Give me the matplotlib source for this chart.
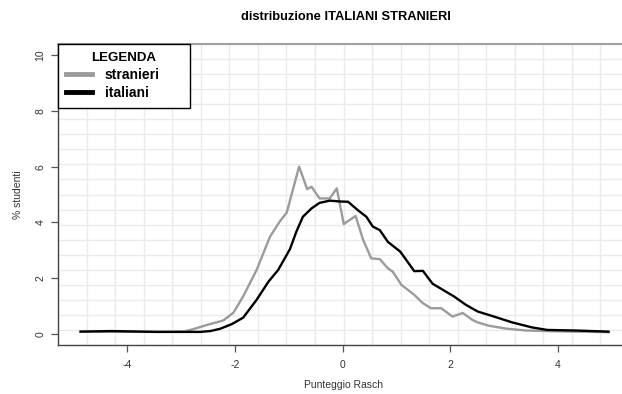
import numpy as np
import matplotlib
matplotlib.use("Agg")
import matplotlib.pyplot as plt
from matplotlib.lines import Line2D
from matplotlib.ticker import FixedLocator

plt.rcParams["font.family"] = ["Liberation Sans", "DejaVu Sans"]

# ---------------------------------------------------------------------------
# Score distributions (% of students by Rasch score)
# ---------------------------------------------------------------------------
x_stranieri = [-4.87, -3.50, -2.96, -2.83, -2.52, -2.22, -2.03, -1.85, -1.60,
               -1.35, -1.17, -1.04, -0.81, -0.66, -0.58, -0.43, -0.24, -0.11,
               0.02, 0.24, 0.38, 0.53, 0.69, 0.84, 0.93, 1.09, 1.33, 1.49,
               1.64, 1.83, 2.04, 2.23, 2.41, 2.51, 2.72, 3.03, 3.40, 3.77,
               4.30, 4.94]
y_stranieri = [0.08, 0.07, 0.08, 0.14, 0.32, 0.48, 0.76, 1.34, 2.29,
               3.49, 4.03, 4.35, 6.00, 5.19, 5.28, 4.86, 4.86, 5.22,
               3.94, 4.23, 3.37, 2.71, 2.68, 2.35, 2.23, 1.76, 1.40, 1.10,
               0.92, 0.92, 0.62, 0.75, 0.50, 0.41, 0.29, 0.19, 0.12, 0.10,
               0.08, 0.06]

x_italiani = [-4.87, -4.30, -3.45, -2.65, -2.46, -2.28, -2.06, -1.85, -1.60,
              -1.38, -1.20, -0.98, -0.86, -0.74, -0.58, -0.43, -0.24, -0.06,
              0.10, 0.28, 0.44, 0.56, 0.69, 0.84, 1.07, 1.33, 1.49, 1.67,
              1.86, 2.07, 2.29, 2.51, 2.78, 3.15, 3.52, 3.80, 4.33, 4.94]
y_italiani = [0.08, 0.10, 0.07, 0.07, 0.10, 0.18, 0.35, 0.58, 1.22,
              1.87, 2.29, 3.04, 3.67, 4.20, 4.50, 4.70, 4.78, 4.75,
              4.74, 4.44, 4.20, 3.85, 3.72, 3.30, 2.95, 2.25, 2.26, 1.80,
              1.58, 1.34, 1.04, 0.80, 0.64, 0.41, 0.23, 0.14, 0.12, 0.08]

x_ticks = [-4, -2, 0, 2, 4]
y_ticks = [0, 2, 4, 6, 8, 10]

GRAY = "#9b9b9b"
XLIM = (-5.29, 5.32)
YLIM = (-0.4, 10.4)

fig = plt.figure(figsize=(6.22, 3.94), dpi=100)
# plot region runs past the right edge of the canvas
ax = fig.add_axes([58 / 622, 1 - 345 / 394, 571 / 622, 301 / 394])
ax.set_xlim(*XLIM)
ax.set_ylim(*YLIM)

# light 20x20 background grid
ax.xaxis.set_minor_locator(FixedLocator(np.linspace(*XLIM, 21)))
ax.yaxis.set_minor_locator(FixedLocator(np.linspace(*YLIM, 21)))
ax.grid(which="minor", color="#ebebeb", linewidth=1.0)
ax.tick_params(which="minor", length=0)
ax.set_axisbelow(True)

ax.plot(x_stranieri, y_stranieri, color=GRAY, linewidth=1.7, zorder=3)
ax.plot(x_italiani, y_italiani, color="black", linewidth=1.7, zorder=4)

ax.spines["right"].set_visible(False)
ax.spines["top"].set_color("#a0a0a0")
ax.spines["top"].set_linewidth(1.5)
for side in ("left", "bottom"):
    ax.spines[side].set_color("#444444")
    ax.spines[side].set_linewidth(1.0)

ax.set_xticks(x_ticks)
ax.set_xticklabels([str(v) for v in x_ticks])
ax.set_yticks(y_ticks)
ax.set_yticklabels([str(v) for v in y_ticks], rotation=90, va="center")
ax.tick_params(which="major", length=5, width=0.9, color="#555555",
               labelsize=7.5, labelcolor="#333333")
ax.tick_params(axis="x", pad=6)
ax.tick_params(axis="y", pad=4)

ax.set_xlabel("Punteggio Rasch", fontsize=7.5, color="#333333", labelpad=7)
ax.set_ylabel("% studenti", fontsize=7.5, color="#333333", labelpad=9)
fig.text(346 / 622, 1 - 17 / 394, "distribuzione ITALIANI STRANIERI",
         ha="center", va="center", fontsize=9.3, fontweight="bold")

handles = [Line2D([], [], color=GRAY, linewidth=3.5),
           Line2D([], [], color="black", linewidth=3.5)]
leg = ax.legend(handles, ["stranieri", "italiani"], title="LEGENDA",
                loc="upper left", bbox_to_anchor=(0, 0, 132 / 571, 1),
                mode="expand", borderaxespad=0, frameon=True, fancybox=False,
                edgecolor="black", framealpha=1, handlelength=1.9,
                handletextpad=0.9, borderpad=0.55, labelspacing=0.3,
                prop={"size": 10, "weight": "bold"},
                title_fontproperties={"size": 9.5, "weight": "bold"})
leg.get_frame().set_linewidth(1.0)
leg.set_zorder(5)

fig.savefig("out.png", dpi=100)
